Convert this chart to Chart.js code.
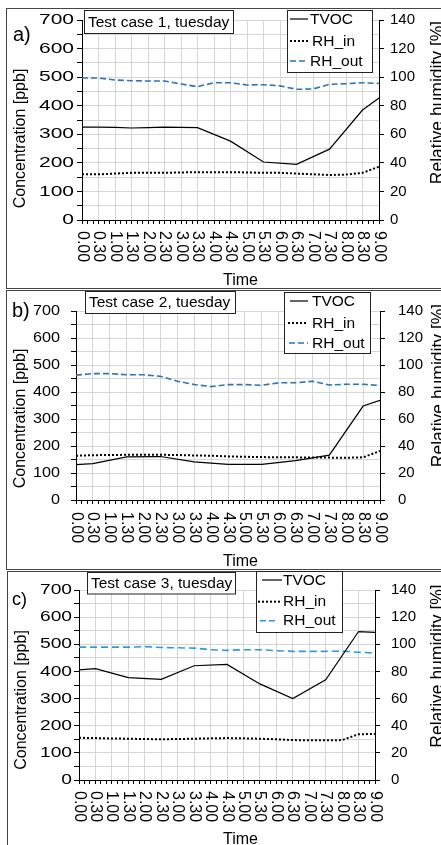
<!DOCTYPE html>
<html>
<head>
<meta charset="utf-8">
<script src="https://cdn.jsdelivr.net/npm/chart.js@4.4.1/dist/chart.umd.min.js"></script>
<style>
  html, body { margin: 0; padding: 0; background: #fff; overflow: hidden; }
  canvas { display: block; }
</style>
</head>
<body>
<canvas id="chartA" width="441" height="289" style="width:441px;height:289px"></canvas>
<canvas id="chartB" width="441" height="281" style="width:441px;height:281px"></canvas>
<canvas id="chartC" width="441" height="275" style="width:441px;height:275px"></canvas>
<script>
// x tick labels (half hours) and their position in minutes
const timeLabels = ['0.00','0.30','1.00','1.30','2.00','2.30','3.00','3.30','4.00','4.30',
                    '5.00','5.30','6.00','6.30','7.00','7.30','8.00','8.30','9.00'];
const timeMinutes = [0, 30, 60, 90, 120, 150, 180, 210, 240, 270,
                     300, 330, 360, 390, 420, 450, 480, 510, 540];

// Test case 1
const tvocTimesA = [0, 30, 60, 90, 120, 150, 180, 210, 270, 330, 390, 450, 510, 540];
const tvocA = [325, 325, 324, 322, 323, 325, 324, 323, 276, 203, 195, 248, 385, 427];
const rhInA = [32, 32, 32.5, 33, 33, 33, 33.3, 33.5, 33.5, 33.5, 33.3, 33, 33, 32.5, 32, 31.5, 31.8, 33, 37.3];
const rhOutA = [99.4, 99.4, 98, 97.5, 97.3, 97.3, 95.2, 93.3, 96.1, 96.1, 94.5, 94.7, 93.9, 91.5, 91.7, 95, 95.4, 96.1, 95.6];

// Test case 2
const tvocTimesB = [0, 30, 90, 150, 210, 270, 330, 390, 450, 510, 540];
const tvocB = [131, 135, 160, 161, 141, 132, 132, 146, 166, 348, 369];
const rhInB = [32.8, 33.2, 33.3, 33.5, 33.5, 33.5, 33.3, 33, 32.8, 32.3, 32, 31.8, 31.6, 31.6, 31.5, 31.4, 31.3, 31.6, 36.3];
const rhOutB = [92.5, 93.6, 93.6, 92.8, 92.8, 91.6, 88, 85.5, 84, 85.5, 85.5, 85, 86.8, 86.8, 88, 85.2, 85.7, 85.7, 84.8];

// Test case 3
const tvocTimesC = [0, 30, 90, 150, 210, 270, 330, 390, 450, 510, 540];
const tvocC = [406, 410, 377, 371, 421, 426, 354, 300, 369, 547, 544];
const rhInC = [31.1, 30.9, 30.6, 30.4, 30.2, 30, 30.2, 30.4, 30.7, 30.9, 30.7, 30.4, 30, 29.4, 29.3, 29.3, 29.4, 33.7, 34];
const rhOutC = [97.9, 97.9, 97.9, 97.9, 98.3, 97.6, 97.4, 97.2, 96, 95.5, 96, 96, 95.3, 94.8, 94.8, 94.8, 95, 94.1, 93.6];

const FONT = '"Liberation Sans", Arial, sans-serif';
const GRID = '#d6d6d6';

function pts(xs, ys) {
  return ys.map((v, i) => ({ x: xs[i], y: v }));
}

function drawLegendLine(ctx, x0, x1, y, dash, color, width) {
  ctx.save();
  ctx.strokeStyle = color;
  ctx.lineWidth = width;
  ctx.setLineDash(dash);
  ctx.beginPath();
  ctx.moveTo(x0, y);
  ctx.lineTo(x1, y);
  ctx.stroke();
  ctx.restore();
}

// labels, frame, boxes and titles drawn on top of the chart
function decor(p) {
  return {
    id: 'decor',
    afterDraw(chart) {
      const ctx = chart.ctx;
      const xs = chart.scales.x;
      const ys = chart.scales.y;
      ctx.save();

      // panel frame
      ctx.strokeStyle = '#444';
      ctx.lineWidth = 1;
      ctx.strokeRect(p.frame[0] + 0.5, p.frame[1] + 0.5, 600, p.frame[2]);

      ctx.fillStyle = '#000';

      // x labels, rotated clockwise
      ctx.font = '16px ' + FONT;
      ctx.textAlign = 'left';
      ctx.textBaseline = 'middle';
      timeLabels.forEach((lab, i) => {
        const x = xs.getPixelForValue(timeMinutes[i]);
        ctx.save();
        ctx.translate(x, xs.top + p.xGap);
        ctx.rotate(Math.PI / 2);
        ctx.fillText(lab, 0, 0);
        ctx.restore();
      });

      // left tick labels
      ctx.font = '15px ' + FONT;
      ctx.textAlign = 'right';
      ys.ticks.forEach(t => {
        if (t.value % 100 !== 0) return;
        const y = ys.getPixelForValue(t.value);
        ctx.save();
        ctx.translate(p.lRight, y);
        ctx.scale(p.lScale, 1);
        ctx.fillText(String(t.value), 0, 0);
        ctx.restore();
      });

      // axis titles
      ctx.textAlign = 'center';
      ctx.textBaseline = 'alphabetic';
      ctx.font = '16px ' + FONT;
      ctx.fillText('Time', 240.5, p.timeY);
      ctx.save();
      ctx.translate(p.leftTitle[0], p.leftTitle[1]);
      ctx.rotate(-Math.PI / 2);
      ctx.fillText('Concentration [ppb]', 0, 0);
      ctx.restore();
      ctx.save();
      ctx.font = '17.5px ' + FONT;
      ctx.translate(p.rightTitle[0], p.rightTitle[1]);
      ctx.rotate(-Math.PI / 2);
      ctx.fillText('Relative humidity [%]', 0, 0);
      ctx.restore();

      // panel tag
      ctx.textAlign = 'left';
      ctx.font = p.tagFont + 'px ' + FONT;
      ctx.fillText(p.tag, p.tagX, p.tagY);

      // title box
      const b = p.tBox;
      ctx.fillStyle = '#fff';
      ctx.fillRect(b[0], b[1], b[2], b[3]);
      ctx.strokeStyle = '#222';
      ctx.strokeRect(b[0], b[1], b[2], b[3]);
      ctx.fillStyle = '#000';
      ctx.font = '15.5px ' + FONT;
      ctx.textBaseline = 'middle';
      ctx.fillText(p.title, p.tText[0], p.tText[1]);

      // legend box
      const lb = p.leg.box;
      ctx.fillStyle = '#fff';
      ctx.fillRect(lb[0], lb[1], lb[2], lb[3]);
      ctx.strokeStyle = '#222';
      ctx.strokeRect(lb[0], lb[1], lb[2], lb[3]);
      const names = ['TVOC', 'RH_in', 'RH_out'];
      const styles = [[[], '#000', 1.2], [[2, 2], '#000', 2], [[6, 3], p.outColor, 1.6]];
      names.forEach((n, i) => {
        const y = p.leg.ys[i];
        drawLegendLine(ctx, p.leg.x0[i], p.leg.x1[i], y, styles[i][0], styles[i][1], styles[i][2]);
        ctx.fillStyle = '#000';
        ctx.fillText(n, p.leg.tx[i], y + 0.5);
      });

      ctx.restore();
    }
  };
}

function makePanel(id, p, tvocT, tvoc, rhIn, rhOut) {
  new Chart(document.getElementById(id), {
    type: 'line',
    data: {
      datasets: [
        { label: 'TVOC', data: pts(tvocT, tvoc), yAxisID: 'y',
          borderColor: '#000', borderWidth: 1.2 },
        { label: 'RH_in', data: pts(timeMinutes, rhIn), yAxisID: 'y1',
          borderColor: '#000', borderWidth: 2, borderDash: [2, 2] },
        { label: 'RH_out', data: pts(timeMinutes, rhOut), yAxisID: 'y1',
          borderColor: p.outColor, borderWidth: 1.6, borderDash: p.outDash }
      ]
    },
    options: {
      responsive: false,
      animation: false,
      devicePixelRatio: 1,
      layout: { padding: { top: p.top, left: 0, right: 0, bottom: 0 } },
      elements: { point: { radius: 0 }, line: { tension: 0, fill: false } },
      plugins: { legend: { display: false }, tooltip: { enabled: false } },
      scales: {
        x: {
          type: 'linear', min: 0, max: 540,
          ticks: { display: false, stepSize: 10 },
          grid: {
            color: c => (c.tick && c.tick.value % 30 === 0) ? GRID : 'rgba(0,0,0,0)',
            tickColor: '#000', tickLength: 4, lineWidth: 1
          },
          border: { color: '#000', width: 1 },
          afterFit: s => { s.height = p.h - p.bottom; }
        },
        y: {
          position: 'left', min: 0, max: 700,
          ticks: { display: false, stepSize: 50 },
          grid: { color: GRID, tickColor: '#000', tickLength: 5 },
          border: { color: '#000', width: 1 },
          afterFit: s => { s.width = p.left; }
        },
        y1: {
          position: 'right', min: 0, max: 140,
          ticks: {
            stepSize: 10, padding: p.rPad, color: '#000',
            font: { family: FONT, size: 15 },
            callback: v => (v % 20 === 0 ? v : '')
          },
          grid: { drawOnChartArea: false, tickColor: '#000', tickLength: 5 },
          border: { color: '#000', width: 1 },
          afterFit: s => { s.width = 441 - p.right; }
        }
      }
    },
    plugins: [decor(p)]
  });
}

makePanel('chartA', {
  frame: [6, 8, 280], h: 289, top: 20, bottom: 220, left: 82, right: 379,
  lRight: 74, lScale: 1.4, rPad: 6, xGap: 11,
  tag: 'a)', tagX: 13, tagY: 41, tagFont: 20,
  title: 'Test case 1, tuesday', tBox: [84.5, 10.5, 149, 23], tText: [88, 22.5],
  leg: { box: [287.5, 10.5, 85, 62], x0: [290, 290, 290], x1: [308, 310, 308], tx: [310, 312, 310], ys: [19, 41, 61] },
  leftTitle: [25, 138.5], rightTitle: [442.5, 102.5], timeY: 285,
  outColor: '#2e75b6', outDash: [6, 3]
}, tvocTimesA, tvocA, rhInA, rhOutA);

makePanel('chartB', {
  frame: [6, 1, 279], h: 281, top: 12, bottom: 211, left: 76, right: 380,
  lRight: 60, lScale: 1.08, rPad: 13, xGap: 12,
  tag: 'b)', tagX: 12, tagY: 28, tagFont: 20,
  title: 'Test case 2, tuesday', tBox: [85.5, 2.5, 150, 22], tText: [89, 13.5],
  leg: { box: [284.5, 3.5, 86, 61], x0: [290, 288, 289], x1: [308, 308, 308], tx: [312, 312, 312], ys: [12, 34, 54] },
  leftTitle: [24.5, 129.5], rightTitle: [444, 96.5], timeY: 277,
  outColor: '#2e75b6', outDash: [6, 3]
}, tvocTimesB, tvocB, rhInB, rhOutB);

makePanel('chartC', {
  frame: [7, 1, 400], h: 275, top: 11, bottom: 210, left: 79, right: 375,
  lRight: 72, lScale: 1.28, rPad: 11, xGap: 11,
  tag: 'c)', tagX: 12, tagY: 35, tagFont: 18,
  title: 'Test case 3, tuesday', tBox: [87.5, 2.5, 148, 21.5], tText: [91, 13.5],
  leg: { box: [256.5, 1.5, 86, 61], x0: [262, 258, 260], x1: [282, 282, 277], tx: [283, 283, 283], ys: [10, 31.7, 50.7] },
  leftTitle: [25.5, 130], rightTitle: [442.5, 96], timeY: 274,
  outColor: '#2e9bdc', outDash: [7, 4]
}, tvocTimesC, tvocC, rhInC, rhOutC);
</script>
</body>
</html>
